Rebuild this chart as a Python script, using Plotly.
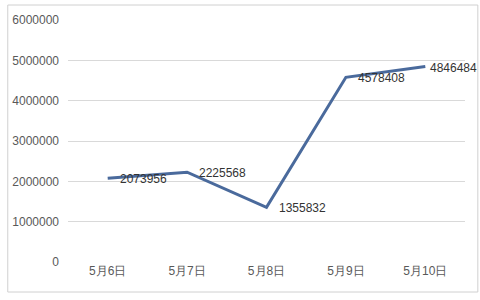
import plotly.graph_objects as go

categories = ["5月6日", "5月7日", "5月8日", "5月9日", "5月10日"]
values = [2073956, 2225568, 1355832, 4578408, 4846484]
tick_vals = [0, 1000000, 2000000, 3000000, 4000000, 5000000, 6000000]

fig = go.Figure()
fig.add_trace(go.Scatter(
    x=categories, y=values, mode="lines",
    line=dict(color="#4a6a9c", width=3),
    cliponaxis=False, hoverinfo="skip"))

n = len(categories)
annotations = [dict(x=c, y=v, xref="x", yref="y", text=str(v), showarrow=False,
                    xanchor="left", yanchor="middle",
                    xshift=(3 if i == n - 1 else 10), yshift=-1,
                    font=dict(family="Liberation Sans, Arial", size=12, color="#333333"))
               for i, (c, v) in enumerate(zip(categories, values))]

fig.update_layout(
    width=480, height=300,
    margin=dict(l=63, r=15, t=20, b=38),
    paper_bgcolor="white", plot_bgcolor="white",
    showlegend=False,
    font=dict(family="Liberation Sans, Arial", size=12, color="#595959"),
    xaxis=dict(type="category", range=[-0.5, 4.5], showgrid=False, showline=False,
               zeroline=False, ticks="", tickfont=dict(size=12, color="#595959")),
    yaxis=dict(range=[0, 6000000], tickvals=tick_vals,
               ticktext=[str(v) for v in tick_vals],
               showgrid=True, gridcolor="#d9d9d9", gridwidth=1,
               zeroline=False, showline=False, ticks="", ticklabelstandoff=8,
               tickfont=dict(size=12, color="#595959")),
    shapes=[dict(type="rect", xref="paper", yref="paper",
                 x0=-61/402, x1=1+13/402, y0=-30/242, y1=1+15/242,
                 line=dict(color="#d0d0d0", width=1))],
    annotations=annotations,
)

fig.write_html("out.html")
